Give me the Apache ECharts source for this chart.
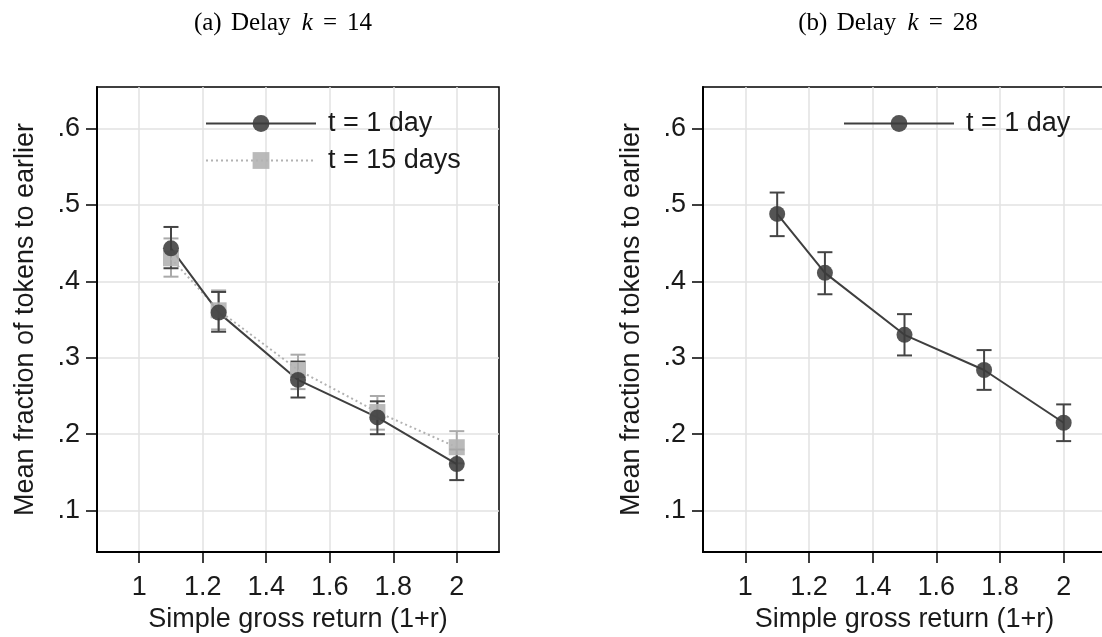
<!DOCTYPE html>
<html><head><meta charset="utf-8">
<script src="https://cdn.jsdelivr.net/npm/echarts@6/dist/echarts.min.js"></script>
<style>html,body{margin:0;padding:0;background:#fff}#c{width:1102px;height:637px}</style>
</head><body><div id="c"></div>
<script>
const xTicks = [1, 1.2, 1.4, 1.6, 1.8, 2];
const yTicks = [0.1, 0.2, 0.3, 0.4, 0.5, 0.6];
const returns = [1.1, 1.25, 1.5, 1.75, 2];
// Panel (a): delay k = 14
const a1Mean = [0.443, 0.359, 0.271, 0.222, 0.161];
const a1Lo   = [0.417, 0.334, 0.248, 0.200, 0.140];
const a1Hi   = [0.471, 0.386, 0.295, 0.243, 0.180];
const a15Mean = [0.430, 0.362, 0.284, 0.229, 0.183];
const a15Lo   = [0.406, 0.337, 0.259, 0.206, 0.162];
const a15Hi   = [0.456, 0.388, 0.304, 0.250, 0.204];
// Panel (b): delay k = 28
const b1Mean = [0.488, 0.411, 0.330, 0.284, 0.215];
const b1Lo   = [0.459, 0.383, 0.303, 0.258, 0.191];
const b1Hi   = [0.516, 0.438, 0.357, 0.310, 0.239];

const FONT = 'Liberation Sans';
const TXT = '#1a1a1a';
const DARK = '#3c3c3c';
const LIGHT = '#b2b2b2';

function xAx(gi) {
  return {
    type: 'value', gridIndex: gi, min: 0.867, max: 2.133,
    axisLine: {show: true, onZero: false, lineStyle: {color: '#000', width: 2}},
    axisTick: {show: true, length: 11, customValues: xTicks, lineStyle: {color: '#000', width: 1.5}},
    axisLabel: {customValues: xTicks, margin: 22, fontSize: 27, color: TXT, fontFamily: FONT,
      formatter: v => String(v)},
    splitLine: {show: true, lineStyle: {color: '#e2e2e2', width: 1.5}},
    name: 'Simple gross return (1+r)', nameLocation: 'middle', nameGap: 48,
    nameTextStyle: {fontSize: 27, color: TXT, fontFamily: FONT}
  };
}
function yAx(gi) {
  return {
    type: 'value', gridIndex: gi, min: 0.046, max: 0.654,
    axisLine: {show: true, onZero: false, lineStyle: {color: '#000', width: 2}},
    axisTick: {show: true, length: 11, customValues: yTicks, lineStyle: {color: '#000', width: 1.5}},
    axisLabel: {customValues: yTicks, margin: 17, fontSize: 27, color: TXT, fontFamily: FONT,
      formatter: v => v.toFixed(1).replace(/^0/, '')},
    splitLine: {show: true, lineStyle: {color: '#e2e2e2', width: 1.5}},
    name: 'Mean fraction of tokens to earlier', nameLocation: 'middle', nameGap: 58,
    nameTextStyle: {fontSize: 27, color: TXT, fontFamily: FONT}
  };
}
function errRender(color) {
  return function (params, api) {
    const x = api.value(0), lo = api.value(1), hi = api.value(2);
    const p1 = api.coord([x, hi]), p2 = api.coord([x, lo]);
    const w = 7.5;
    const st = {stroke: color, lineWidth: 2};
    return {type: 'group', children: [
      {type: 'line', shape: {x1: p1[0], y1: p1[1], x2: p2[0], y2: p2[1]}, style: st},
      {type: 'line', shape: {x1: p1[0] - w, y1: p1[1], x2: p1[0] + w, y2: p1[1]}, style: st},
      {type: 'line', shape: {x1: p2[0] - w, y1: p2[1], x2: p2[0] + w, y2: p2[1]}, style: st}
    ]};
  };
}
function errSeries(gi, lo, hi, color) {
  return {
    type: 'custom', xAxisIndex: gi, yAxisIndex: gi, clip: false, silent: true,
    renderItem: errRender(color), encode: {x: 0, y: [1, 2]},
    data: returns.map((x, i) => [x, lo[i], hi[i]])
  };
}
function lineSeries(gi, name, mean, opts) {
  return Object.assign({
    type: 'line', name: name, xAxisIndex: gi, yAxisIndex: gi,
    data: returns.map((x, i) => [x, mean[i]])
  }, opts);
}
const darkOpts = {symbol: 'circle', symbolSize: 16,
  itemStyle: {color: DARK, opacity: 0.88}, lineStyle: {color: '#3f3f3f', width: 2}};
const lightOpts = {symbol: 'rect', symbolSize: 16,
  itemStyle: {color: LIGHT, opacity: 0.9}, lineStyle: {color: LIGHT, width: 2, type: [2, 3]}};

const legendText = {fontSize: 27, lineHeight: 27, color: TXT, fontFamily: FONT, padding: [0, 0, 0, 7]};
const serifRich = {
  n: {fontFamily: 'Liberation Serif', fontSize: 25, fill: '#000'},
  s: {fontFamily: 'Liberation Serif', fontSize: 25, fill: '#000', padding: [0, 3, 0, 0]},
  i: {fontFamily: 'Liberation Serif', fontSize: 25, fontStyle: 'italic', fill: '#000', padding: [0, 0, 0, 2]},
  e: {fontFamily: 'Liberation Serif', fontSize: 25, fill: '#000', padding: [0, 10, 0, 10]}
};
const chart = echarts.init(document.getElementById('c'), null, {renderer: 'canvas'});
chart.setOption({
  animation: false,
  backgroundColor: '#fff',
  grid: [
    {left: 97, top: 87, width: 402, height: 465, show: true, borderColor: '#000', borderWidth: 1.5, outerBoundsMode: 'none'},
    {left: 703, top: 87, width: 403, height: 465, show: true, borderColor: '#000', borderWidth: 1.5, outerBoundsMode: 'none'}
  ],
  xAxis: [xAx(0), xAx(1)],
  yAxis: [yAx(0), yAx(1)],
  legend: [
    {left: 205, top: 110, orient: 'vertical', padding: 0, itemWidth: 110, itemHeight: 21, itemGap: 10,
      data: ['t = 1 day', 't = 15 days'], textStyle: legendText, selectedMode: false},
    {left: 843, top: 110, orient: 'vertical', padding: 0, itemWidth: 110, itemHeight: 21, itemGap: 10,
      data: ['t = 1 day'], textStyle: legendText, selectedMode: false}
  ],
  graphic: [
    {type: 'text', x: 283, y: 11, style: {text: '{s|(a) }{s|Delay }{i|k}{e|=}{n|14}', align: 'center', rich: serifRich}},
    {type: 'text', x: 888, y: 11, style: {text: '{s|(b) }{s|Delay }{i|k}{e|=}{n|28}', align: 'center', rich: serifRich}}
  ],
  series: [
    errSeries(0, a15Lo, a15Hi, '#aaaaaa'),
    lineSeries(0, 't = 15 days', a15Mean, lightOpts),
    errSeries(0, a1Lo, a1Hi, '#444444'),
    lineSeries(0, 't = 1 day', a1Mean, darkOpts),
    errSeries(1, b1Lo, b1Hi, '#444444'),
    lineSeries(1, 't = 1 day', b1Mean, darkOpts)
  ]
});
</script></body></html>
